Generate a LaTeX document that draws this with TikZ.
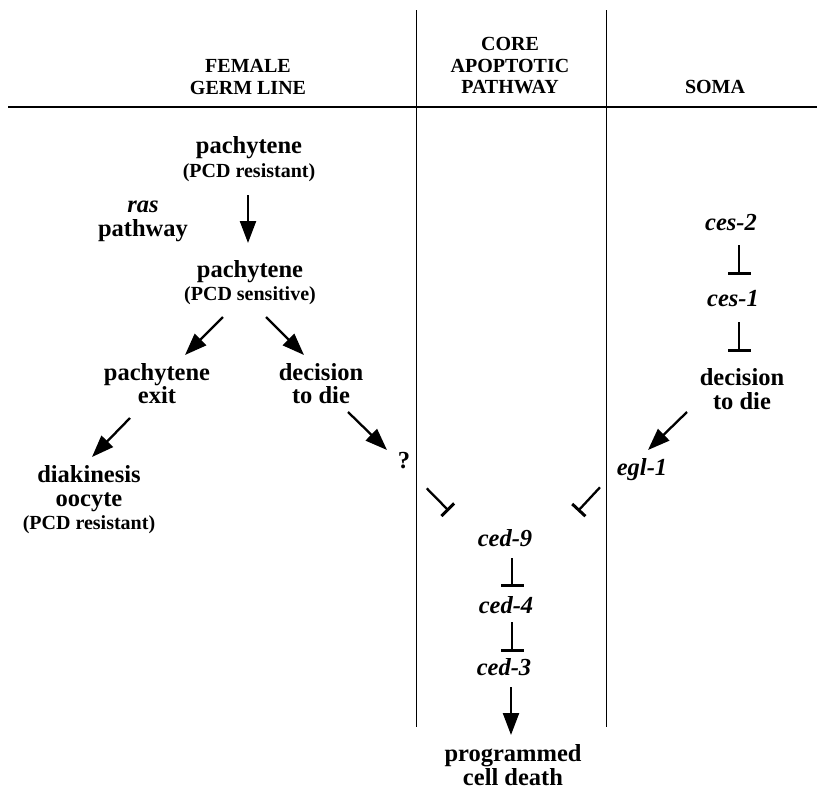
\documentclass[tikz,border=0pt]{standalone}
\usepackage{fontspec}
\setmainfont{Liberation Serif}
\usetikzlibrary{arrows.meta}

\tikzset{
  txt/.style = {font=\fontsize{24.5}{23.5}\selectfont\bfseries, align=center, inner sep=0pt},
  gene/.style = {txt, font=\fontsize{24.5}{23.5}\selectfont\bfseries\itshape},
  head/.style = {font=\fontsize{20}{21.5}\selectfont\bfseries, align=center, inner sep=0pt},
  arr/.style = {-{Triangle[length=22pt,width=16pt]}, line width=2.3pt},
  inh/.style = {-{Bar[width=23pt,line width=3pt]}, line width=2.3pt},
  inhd/.style = {-{Bar[width=18pt,line width=3pt]}, line width=2.3pt},
  divider/.style = {line width=1.5pt}
}
\newcommand{\pcdnote}[1]{{\fontsize{20}{20}\selectfont #1}}

\begin{document}
\begin{tikzpicture}[x=1pt, y=-1pt]
\useasboundingbox (0, 0) rectangle (817, 790);
% columns
\draw[divider] (416.5, 10) -- (416.5, 727);
\draw[divider] (606.5, 10) -- (606.5, 727);
\draw[line width=1.8pt] (8, 107) -- (817, 107);
\node (hfem) at (248, 77) [head] {FEMALE\\GERM LINE};
\node (hcore) at (510, 66) [head] {CORE\\APOPTOTIC\\PATHWAY};
\node (hsoma) at (715, 87) [head] {SOMA};
% germ line
\node (pres) at (249, 159) [txt] {pachytene\\\pcdnote{(PCD resistant)}};
\node (ras) at (143, 221.5) [txt] {\textit{ras}\\pathway};
\node (psen) at (250, 282.5) [txt] {pachytene\\\pcdnote{(PCD sensitive)}};
\node (pexit) at (157, 383.5) [txt] {pachytene\\exit};
\node (gdie) at (321, 383.5) [txt] {decision\\to die};
\node (diak) at (89, 500) [txt] {diakinesis\\oocyte\\\pcdnote{(PCD resistant)}};
\node (q) at (404, 461) [txt] {?};
% core
\node (ced9) at (505, 538) [gene] {ced-9};
\node (ced4) at (506, 605) [gene] {ced-4};
\node (ced3) at (504, 667) [gene] {ced-3};
\node (pcd) at (513, 765) [txt] {programmed\\cell death};
% soma
\node (ces2) at (731, 223) [gene] {ces-2};
\node (ces1) at (733, 299) [gene] {ces-1};
\node (sdie) at (742, 389) [txt] {decision\\to die};
\node (egl) at (642, 470) [gene] {egl-1};

\draw[arr] ([shift={(-1,36)}]pres.center) -- ([shift={(-2,-39.5)}]psen.center);
\draw[arr] ([shift={(-27,34.5)}]psen.center) -- ([shift={(28,-28.5)}]pexit.center);
\draw[arr] ([shift={(16,34.5)}]psen.center) -- ([shift={(-17,-28.5)}]gdie.center);
\draw[arr] ([shift={(-27,34.5)}]pexit.center) -- ([shift={(3,-43)}]diak.center);
\draw[arr] ([shift={(27,28.5)}]gdie.center) -- ([shift={(-17,-11)}]q.center);
\draw[inhd] ([shift={(22.7,27.3)}]q.center) -- ([shift={(-56.2,-27.2)}]ced9.center);
\draw[inhd] ([shift={(-42,17.3)}]egl.center) -- ([shift={(72.8,-26.8)}]ced9.center);
\draw[inh] ([shift={(7,20)}]ced9.center) -- ([shift={(6,-18)}]ced4.center);
\draw[inh] ([shift={(6,17)}]ced4.center) -- ([shift={(8,-15)}]ced3.center);
\draw[arr] ([shift={(7,20)}]ced3.center) -- ([shift={(-2,-30)}]pcd.center);
\draw[inh] ([shift={(8,22)}]ces2.center) -- ([shift={(6,-24)}]ces1.center);
\draw[inh] ([shift={(6,23)}]ces1.center) -- ([shift={(-3,-37)}]sdie.center);
\draw[arr] ([shift={(-55,23)}]sdie.center) -- ([shift={(6,-20)}]egl.center);
\end{tikzpicture}
\end{document}
